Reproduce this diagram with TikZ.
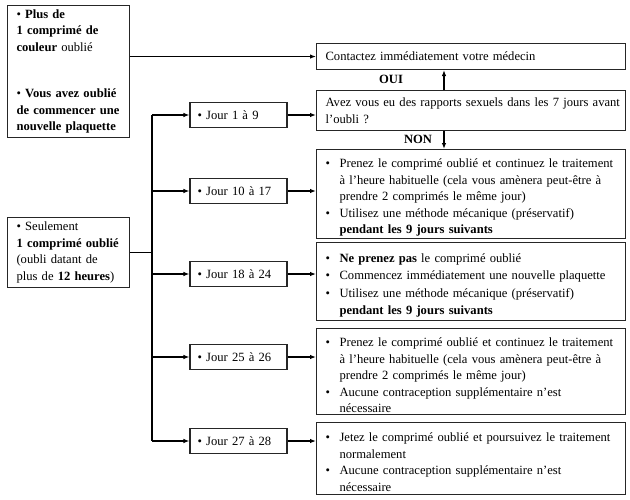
\documentclass[tikz,border=0pt]{standalone}
\usepackage{fontspec}
\setmainfont{Liberation Serif}
\usetikzlibrary{arrows.meta,positioning}
\hyphenpenalty=10000
\exhyphenpenalty=10000
\newcommand{\itm}[1]{\par\noindent\hangindent=14pt\hangafter=1\makebox[14pt][l]{\textbullet}#1\par}

\begin{document}
\begin{tikzpicture}[x=1pt,y=-1pt,font=\fontsize{12.6}{16.5}\selectfont]
  \tikzstyle{box}=[rectangle,draw=black!85,line width=1.1pt,inner ysep=0pt]
  \tikzstyle{cas}=[box,anchor=north west,align=left,text width=104pt,inner xsep=9pt,minimum width=122pt]
  \tikzstyle{jour}=[box,align=left,text width=82pt,inner xsep=7.5pt,minimum height=25pt]
  \tikzstyle{action}=[box,anchor=north west,align=left,text width=291pt,inner xsep=9pt]
  \tikzstyle{arr}=[line width=1.1pt,-{Latex[length=6pt,width=4.5pt]}]
  \useasboundingbox (0,0) rectangle (630,499);
  % cas de depart
  \node[cas,minimum height=132pt] (plus) at (7,5) {\textbullet\ \textbf{Plus de}\\\textbf{1 comprim\'e de}\\\textbf{couleur} oubli\'e\\[30pt]\textbullet\ \textbf{Vous avez oubli\'e}\\\textbf{de commencer une}\\\textbf{nouvelle plaquette}};
  \node[cas,minimum height=70pt] (seul) at (7,217) {\textbullet\ Seulement\\\textbf{1 comprim\'e oubli\'e}\\(oubli datant de\\plus de \textbf{12 heures})};
  % jours
  \node[jour] (j1) at (238.5,115) {\textbullet\ Jour 1 \`a 9};
  \node[jour] (j2) at (238.5,191) {\textbullet\ Jour 10 \`a 17};
  \node[jour] (j3) at (238.5,274) {\textbullet\ Jour 18 \`a 24};
  \node[jour] (j4) at (238.5,357) {\textbullet\ Jour 25 \`a 26};
  \node[jour] (j5) at (238.5,441) {\textbullet\ Jour 27 \`a 28};
  % actions
  \node[action,minimum height=26pt] (medecin) at (316,43) {Contactez imm\'ediatement votre m\'edecin};
  \node[action,minimum height=40pt] (rapports) at (316,90) {\makebox[\linewidth][l]{Avez vous eu des rapports sexuels dans les 7 jours avant}\\l'oubli ?};
  \node[action,minimum height=89pt] (a2) at (316,149) {\itm{Prenez le comprim\'e oubli\'e et continuez le traitement \`a l'heure habituelle (cela vous am\`enera peut-\^etre \`a prendre 2 comprim\'es le m\^eme jour)}\itm{Utilisez une m\'ethode m\'ecanique (pr\'eservatif) \textbf{pendant les 9 jours suivants}}};
  \node[action,minimum height=78pt] (a3) at (316,242) {\itm{\textbf{Ne prenez pas} le comprim\'e oubli\'e}\itm{Commencez imm\'ediatement une nouvelle plaquette}\vspace{2pt}\itm{Utilisez une m\'ethode m\'ecanique (pr\'eservatif) \textbf{pendant les 9 jours suivants}}};
  \node[action,minimum height=86pt] (a4) at (316,328) {\itm{Prenez le comprim\'e oubli\'e et continuez le traitement \`a l'heure habituelle (cela vous am\`enera peut-\^etre \`a prendre 2 comprim\'es le m\^eme jour)}\itm{Aucune contraception suppl\'ementaire n'est n\'ecessaire}};
  \node[action,minimum height=72pt] (a5) at (316,422) {\itm{Jetez le comprim\'e oubli\'e et poursuivez le traitement normalement}\itm{Aucune contraception suppl\'ementaire n'est n\'ecessaire}};
  \node[font=\fontsize{12.6}{14}\selectfont\bfseries] (oui) at (391,79) {OUI};
  \node[font=\fontsize{12.6}{14}\selectfont\bfseries] (non) at (418,139) {NON};
  \coordinate (trunk) at (152,0);
  \coordinate (vert) at (444,0);
  % liaisons
  \draw[arr] (plus.east |- medecin.west) -- (medecin.west);
  \draw[line width=1.1pt] (seul.east) -- (trunk |- seul.east);
  \draw[line width=1.1pt] (trunk |- j1) -- (trunk |- j5);
  \foreach \j in {j1,j2,j3,j4,j5}
    \draw[arr] (trunk |- \j.west) -- (\j.west);
  \draw[arr] (j1.east) -- (j1.east -| rapports.west);
  \draw[arr] (j2.east) -- (j2.east -| a2.west);
  \draw[arr] (j3.east) -- (j3.east -| a3.west);
  \draw[arr] (j4.east) -- (j4.east -| a4.west);
  \draw[arr] (j5.east) -- (j5.east -| a5.west);
  \draw[arr] (vert |- rapports.north) -- (vert |- medecin.south);
  \draw[arr] (vert |- rapports.south) -- (vert |- a2.north);
\end{tikzpicture}
\end{document}
